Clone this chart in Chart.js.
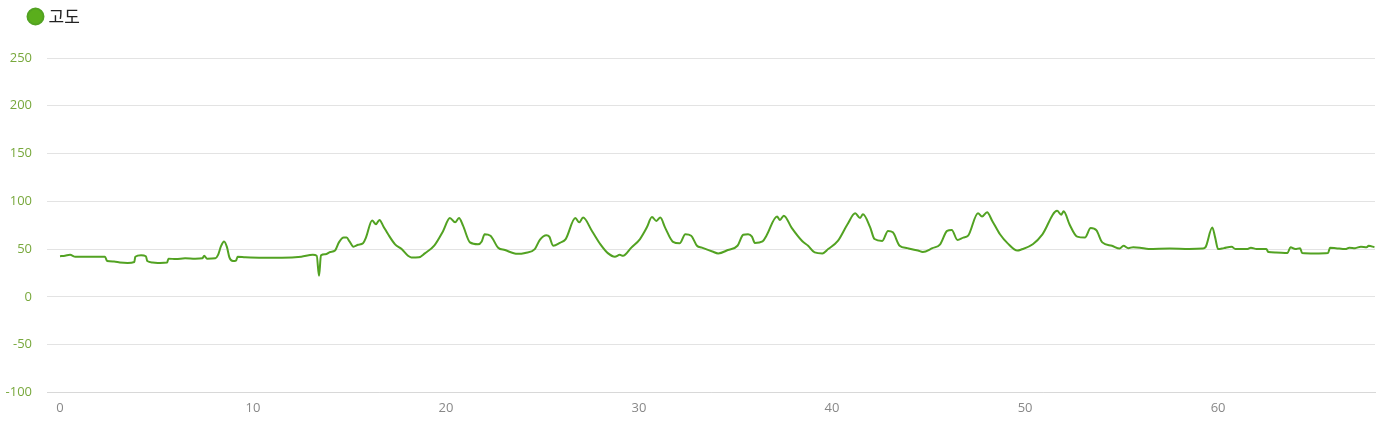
<!DOCTYPE html>
<html>
<head>
<meta charset="utf-8">
<script src="https://cdn.jsdelivr.net/npm/chart.js@4/dist/chart.umd.min.js"></script>
<style>
  html, body { margin: 0; padding: 0; background: #fff; }
  #wrap { width: 1395px; height: 424px; }
</style>
</head>
<body>
<div id="wrap"><canvas id="elevChart"></canvas></div>
<script>
// distance (km) and elevation (m)
var distKm = [
  0, 0.26, 0.52, 0.8, 1.5, 2.33, 2.44, 2.8, 3.1, 3.5, 3.85, 3.9, 4.2, 4.45, 4.52, 4.8, 5.18, 5.55, 5.62, 6.0,
  6.48, 7.0, 7.38, 7.47, 7.62, 8.05, 8.19, 8.34, 8.5, 8.65, 8.78, 8.96, 9.12, 9.2, 9.6, 10.5, 11.5, 12.5, 13.1, 13.3,
  13.42, 13.52, 13.75, 14.0, 14.25, 14.45, 14.7, 14.85, 15.0, 15.2, 15.45, 15.7, 15.85, 16.17, 16.37, 16.55, 16.75, 17.0, 17.36, 17.7,
  18.03, 18.2, 18.6, 18.9, 19.4, 19.85, 20.2, 20.47, 20.67, 20.88, 21.24, 21.66, 21.85, 22.0, 22.3, 22.7, 23.05, 23.7, 24.1, 24.6,
  24.87, 25.2, 25.35, 25.55, 25.9, 26.2, 26.7, 26.9, 27.1, 27.56, 28.0, 28.4, 28.75, 29.0, 29.17, 29.6, 30.05, 30.4, 30.67, 30.9,
  31.1, 31.35, 31.76, 32.1, 32.4, 32.7, 33.0, 33.26, 33.8, 34.1, 34.6, 35.1, 35.4, 35.65, 35.85, 36.0, 36.4, 36.6, 37.15, 37.3,
  37.5, 37.9, 38.45, 38.76, 39.1, 39.5, 39.8, 40.3, 40.8, 41.2, 41.45, 41.6, 41.97, 42.2, 42.6, 42.9, 43.15, 43.5, 43.9, 44.45,
  44.7, 45.2, 45.6, 45.96, 46.2, 46.5, 46.8, 47.05, 47.56, 47.77, 48.03, 48.3, 48.7, 49.1, 49.6, 49.8, 50.4, 50.9, 51.66, 51.87,
  52.0, 52.3, 52.7, 53.1, 53.4, 53.7, 54.0, 54.5, 54.9, 55.1, 55.35, 55.6, 55.95, 56.4, 57.5, 58.5, 59.2, 59.35, 59.7, 59.85,
  60.0, 60.3, 60.7, 60.9, 61.5, 61.7, 62.0, 62.5, 62.6, 63.0, 63.6, 63.75, 64.0, 64.25, 64.35, 65.0, 65.7, 65.8, 66.1, 66.6,
  66.8, 67.1, 67.4, 67.7, 67.8, 68.1
];
var elevM = [
  42.5, 43, 44, 42, 42, 42, 37.5, 37, 36, 35.5, 36.5, 42, 43.5, 42.5, 37.5, 36, 35.5, 36, 40, 39.5,
  40.5, 40, 40.5, 43, 40, 40.5, 44, 53, 58, 52, 41, 37.5, 38, 42, 41.5, 41, 41, 42, 44, 43,
  22, 43.5, 44.5, 47, 48.5, 57, 62, 62, 58, 52.5, 54.5, 56, 62, 80, 76, 80.5, 74, 65.5, 55, 50,
  43, 41.3, 41.5, 45.5, 54, 69, 82.5, 78, 82.5, 74.5, 57, 55, 58, 65.5, 64, 51.5, 49, 45, 46, 50,
  60, 64.5, 63, 53.5, 56.5, 60.5, 82.5, 78, 83, 69, 55, 45.5, 42, 44, 43, 51.5, 60.5, 72.5, 83.5, 79.5,
  83, 72.5, 57.5, 56, 65.5, 64, 53.5, 51.5, 47.5, 45.5, 49, 53.5, 65, 65.5, 63, 56.5, 58, 64, 84, 80.5,
  85, 72.5, 58.5, 53.5, 46.5, 45.5, 50, 58.5, 76, 87.5, 82.5, 86.5, 73, 60.5, 58.5, 69, 67.5, 53.5, 51, 48.5,
  47, 51, 55, 69, 70, 59.5, 62, 64, 87.5, 84, 88.5, 79.5, 65.5, 56, 48.5, 49.5, 55, 65.5, 90, 86,
  89.5, 76, 63, 62, 72, 69.5, 57, 53.5, 50.5, 53.5, 51, 52, 51.5, 50, 50.5, 50, 50.5, 52, 72.5, 62,
  50, 51, 52.5, 50, 50, 51.5, 50, 50, 47, 46.5, 46, 52, 50, 51, 46, 45.5, 46, 51.5, 51, 50,
  51.5, 51, 52.5, 52, 53.5, 52
];
var xTickValues = [0, 10, 20, 30, 40, 50, 60];
var seriesName = "고도";

var points = [];
for (var i = 0; i < distKm.length; i++) {
    points.push({x: distKm[i], y: elevM[i]});
}

// legend: push the plot area down and nudge the legend to the right
const legendTweak = {
    id: 'legendTweak',
    beforeInit: (chart) => {
        const origFit = chart.legend.fit;
        chart.legend.fit = function () {
            origFit.bind(chart.legend)();
            this.height += 23;
        };
    },
    afterLayout: (chart) => {
        chart.legend.left += 23;
    }
};

new Chart("elevChart", {
    type: "line",
    plugins: [legendTweak],
    data: {
        datasets: [{
            label: seriesName,
            data: points,
            borderColor: "#52a222",
            backgroundColor: "#5aae1c",
            borderWidth: 2,
            pointRadius: 0,
            fill: false,
            cubicInterpolationMode: "monotone"
        }]
    },
    options: {
        responsive: true,
        maintainAspectRatio: false,
        animation: false,
        layout: { padding: { left: 0, right: 20, top: 0, bottom: 0 } },
        plugins: {
            tooltip: { enabled: false },
            legend: {
                display: true,
                align: "start",
                labels: {
                    usePointStyle: true,
                    pointStyle: "circle",
                    boxWidth: 9,
                    boxHeight: 11.3,
                    padding: 8,
                    color: "#222",
                    font: { family: "'Noto Sans CJK KR', 'Noto Sans', sans-serif", size: 17 }
                }
            }
        },
        scales: {
            x: {
                type: "linear",
                min: -0.674,
                max: 68.13,
                afterBuildTicks: (scale) => {
                    scale.ticks = xTickValues.map(v => ({value: v}));
                },
                grid: { display: false, drawTicks: false },
                border: { display: true, color: "#d8d8d8" },
                ticks: {
                    padding: 8,
                    color: "#888",
                    maxRotation: 0,
                    font: { family: "'Open Sans', sans-serif", size: 13 }
                }
            },
            y: {
                min: -100,
                max: 250,
                afterFit: (scale) => { scale.width = 47; },
                grid: { color: "#e3e3e3", drawTicks: false },
                border: { display: false },
                ticks: {
                    stepSize: 50,
                    padding: 15,
                    color: "#78a83c",
                    font: { family: "'Open Sans', sans-serif", size: 13 }
                }
            }
        }
    }
});
</script>
</body>
</html>
